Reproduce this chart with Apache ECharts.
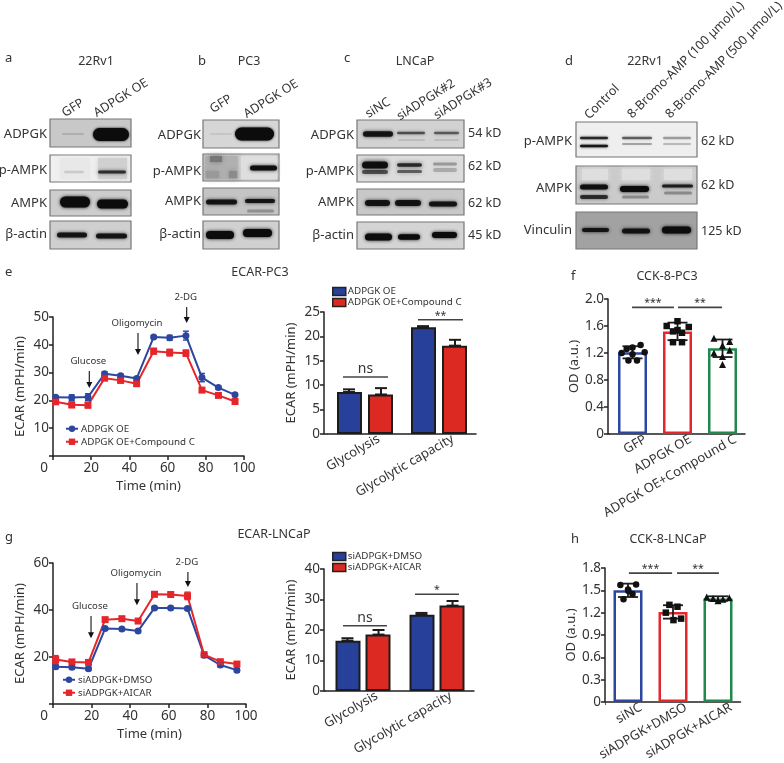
<!DOCTYPE html>
<html><head><meta charset="utf-8">
<style>html,body{margin:0;padding:0;background:#fff}#c{width:784px;height:763px}</style>
<script src="https://cdn.jsdelivr.net/npm/echarts@6/dist/echarts.min.js"></script>
</head><body><div id="c"></div>
<script>
// ---------- data ----------
const eTime=[1.4,9.8,18.3,27,35.4,43.8,52.7,61.1,69.6,78,86.6,95.3];
const eBlue=[21.1,21,21.2,29.6,28.9,27.9,42.8,42.5,43.3,28.2,24.6,22];
const eBlueErr=[0.6,1,1.2,0.7,0.6,0.6,0.5,0.9,1.6,1.5,0.6,0.5];
const eRed=[19.5,18.4,18.3,28,27.2,26,37.7,37.2,37,23.7,21.8,19.6];
const eRedErr=[0.8,1,1,0.8,0.8,0.9,1,1.2,1.1,0.7,0.7,0.6];
const gTime=[1.4,9.8,18.4,27,35.7,44.1,52.6,61,69.7,78.3,86.7,95.3];
const gBlue=[15.9,15.6,15,32.1,31.9,31.1,40.9,40.9,40.6,20.7,16.6,14.4];
const gBlueErr=[0.8,0.8,0.7,0.7,0.6,0.6,0.6,0.6,0.7,0.8,0.8,0.8];
const gRed=[18.9,17.9,17.7,35.9,36.3,35.3,46.7,46.6,46,21,18,17];
const gRedErr=[1.7,0.9,0.8,0.7,0.7,0.7,1,0.7,1.6,0.9,0.8,0.8];
const barCats=['Glycolysis','Glycolytic capacity'];
const eBarBlue=[8.6,21.85], eBarBlueErr=[0.55,0.25];
const eBarRed=[8.1,18.1], eBarRedErr=[1.3,1.2];
const gBarBlue=[16.5,25], gBarBlueErr=[0.8,0.6];
const gBarRed=[18.5,28], gBarRedErr=[1.5,1.5];
const fCats=['GFP','ADPGK OE','ADPGK OE+Compound C'];
const fMeans=[1.21,1.52,1.27], fErrs=[0.09,0.13,0.13];
const fDots0=[[-0.24,1.2],[-0.13,1.26],[0,1.28],[0.18,1.32],[0.27,1.21],[-0.09,1.09],[0.1,1.09],[0,1.18]];
const fDots1=[[0.76,1.6],[1,1.67],[1.25,1.585],[0.9,1.52],[1.1,1.5],[0.9,1.36],[1.1,1.36],[1,1.54]];
const fDots2=[[1.81,1.42],[2.16,1.37],[2,1.31],[1.81,1.2],[2.16,1.24],[2,1.15],[2,1.03]];
const hCats=['siNC','siADPGK+DMSO','siADPGK+AICAR'];
const hMeans=[1.5,1.21,1.39], hErrs=[0.09,0.09,0.03];
const hDots0=[[-0.17,1.57],[0.18,1.58],[0.01,1.49],[0.1,1.45],[-0.1,1.38],[0,1.51]];
const hDots1=[[0.92,1.305],[1.1,1.28],[0.84,1.2],[1.01,1.1],[1.18,1.12]];
const hDots2=[[1.75,1.41],[2.25,1.4],[1.89,1.39],[2,1.36],[2.11,1.38]];
const eArrows=[[19,30.6,24.5,'Glucose'],[44.5,44.2,36.3,'Oligomycin'],[70,53.6,47.8,'2-DG']];
const gArrows=[[19.7,37.4,28,'Glucose'],[43.5,51.5,42,'Oligomycin'],[69.9,56.2,49.8,'2-DG']];
const eBarSig=[[-0.297,0.311,11.7,'ns'],[0.716,1.324,23.4,'**']];
const gBarSig=[[-0.27,0.324,21.4,'ns'],[0.703,1.297,31.7,'*']];
const fSig=[[-0.01,0.92,1.877,'***'],[1.01,1.99,1.877,'**']];
const hSig=[[0.02,0.98,1.73,'***'],[1.09,2.02,1.73,'**']];

// ---------- style ----------
const FONT='"Noto Sans"', INK='#333', AX='#222';
const BLUE='#2c479f', RED='#e5262b', GREEN='#1f8a4c', BARBLUE='#27409a', BARRED='#dc2a22';
const chart=echarts.init(document.getElementById('c'),null,{renderer:'canvas'});

// ---------- blots (picture decoration) ----------
const el=[];
const txt=(t,x,y,o={})=>el.push({type:'text',x,y,rotation:(o.rot||0)*Math.PI/180,silent:true,z:10,
  style:{text:t,fill:o.fill||INK,font:(o.size||13)+'px '+FONT,textAlign:o.align||'center',textVerticalAlign:'middle'}});
const panel=(x1,y1,x2,y2,fill)=>el.push({type:'rect',silent:true,shape:{x:x1,y:y1,width:x2-x1,height:y2-y1},
  style:{fill,stroke:'#777',lineWidth:1.2}});
const band=(x1,x2,cy,h,a=1,blur=3.5)=>{const c='rgba(12,12,12,'+a+')';el.push({type:'rect',silent:true,
  shape:{x:x1,y:cy-h/2,width:x2-x1,height:h,r:h/2},style:{fill:c,shadowBlur:blur,shadowColor:c}})};
const patch=(x1,y1,x2,y2,c)=>el.push({type:'rect',silent:true,shape:{x:x1,y:y1,width:x2-x1,height:y2-y1},style:{fill:c,shadowBlur:5,shadowColor:c}});

// a
panel(50,119,131,147,'#c8c8c8'); band(62,84,134,2,0.12,3); band(93,129,134.5,13,1,2.5);
panel(50,155,131,182,'#f0f0f0'); patch(60,158,90,179,'#e8e8e8'); patch(98,158,127,179,'#d0d0d0'); band(64,84,172,2.5,0.13,3); band(98,126,172,3,0.75);
panel(50,190,131,216,'#cdcdcd'); band(60,90,202,11,1); band(97,128,204,9,1);
panel(50,221,131,249,'#cfcfcf'); band(57,87,235,5,0.9); band(96,127,236,5,0.9);
// b
panel(203,120,279,148,'#d6d6d6'); band(210,232,134,1.5,0.1,3); band(235,274,134,13,1,2.5);
panel(203,154,279,181,'#c8c8c8'); patch(205,156,238,179,'#b0b0b0'); patch(210,156,222,162,'#777'); patch(229,171,237,178,'#8a8a8a'); patch(206,171,219,178,'#999');
patch(241,156,277,179,'#dedede'); band(250,277,168,5,0.95);
panel(203,188,279,215,'#c4c4c4'); band(206,237,202,5,0.9); band(245,275,201,4,0.9); band(247,274,211,3,0.25,3);
panel(203,221,279,249,'#d0d0d0'); band(206,234,235,8,1); band(243,272,233,8,1);
// c
panel(357,120,464,148,'#d2d2d2'); band(363,393,134,5.5,0.9); band(397,425,133,2.5,0.6); band(434,459,133,2.5,0.55); band(398,425,140,2,0.1,3); band(434,459,140,2,0.1,3);
panel(357,155,464,182,'#dcdcdc'); band(362,388,165,7,0.95,5); band(362,388,172,4,0.6,4); band(397,422,165,3.5,0.8,4); band(397,422,171.5,3,0.55,4); band(433,457,164,3,0.3,5); band(433,457,170,4,0.22,5);
panel(357,189,464,215,'#c8c8c8'); band(365,390,203,6,0.9); band(395,421,203,6,0.9); band(429,457,204,5,0.9);
panel(357,222,464,249,'#d4d4d4'); band(365,392,237,7,1); band(398,420,237,5.5,1); band(432,457,235,6,1);
// d
panel(576,122,697,157,'#efefef'); band(580,608,138,2.6,0.8,2.5); band(580,608,146,2.6,0.9,2.5); band(622,652,138,2.6,0.55,2.5); band(622,652,144,2.2,0.3,2.5); band(663,691,138,2.4,0.32,2.5); band(663,691,144,2.2,0.22,2.5);
panel(576,166,697,204,'#cbcbcb'); patch(582,169,608,180,'#dedede'); patch(622,169,650,180,'#dedede'); patch(664,169,692,180,'#dedede');
band(580,608,187,5,0.95); band(580,608,197,4,0.75); band(620,649,189,6,1); band(622,649,197,3,0.3,3); band(662,693,186,3,0.85); band(664,692,193,3,0.3,3);
panel(576,212,697,249,'#a2a2a2'); band(582,609,230,4,0.9); band(622,650,231,5,0.9); band(662,691,230,7,1);

// blot text
[['a',5,58],['b',198,61],['c',344,58],['d',565,61],['e',5,272],['f',571,276],['g',5,537],['h',571,539]].forEach(a=>txt(a[0],a[1],a[2],{size:13,align:'left'}));
[['22Rv1',96,61],['PC3',249,61],['LNCaP',415,61],['22Rv1',645,61],['ECAR-PC3',260,272],['CCK-8-PC3',667,276],['ECAR-LNCaP',274,534],['CCK-8-LNCaP',668,539]].forEach(a=>txt(a[0],a[1],a[2],{size:12.5}));
[['ADPGK',47,134],['p-AMPK',47,170],['AMPK',47,203],['β-actin',47,234],
 ['ADPGK',201,135],['p-AMPK',201,171],['AMPK',201,201],['β-actin',201,234],
 ['ADPGK',354,135],['p-AMPK',354,171],['AMPK',354,202],['β-actin',354,235],
 ['p-AMPK',572,141],['AMPK',572,188],['Vinculin',572,230]].forEach(a=>txt(a[0],a[1],a[2],{size:13,align:'right'}));
[['54 kD',468,133],['62 kD',468,166],['62 kD',468,203],['45 kD',468,235],['62 kD',701,141],['62 kD',701,185],['125 kD',701,231]].forEach(a=>txt(a[0],a[1],a[2],{size:12.5,align:'left'}));
[['GFP',73,108,32],['ADPGK OE',121,98,32],['GFP',221,104,32],['ADPGK OE',271,99,32],['siNC',378,108,32],['siADPGK#2',426,100,32],['siADPGK#3',463,99,32],
 ['Control',602,102,45],['8-Bromo-AMP (100 μmol/L)',686,60,45],['8-Bromo-AMP (500 μmol/L)',724,60,45]].forEach(a=>txt(a[0],a[1],a[2],{size:12.5,rot:a[3]}));

// baseline stubs where the y axis sits left of the category scale
[[324,328,434],[324,326,691],[608,610,434],[605,606,704]].forEach(s=>el.push({type:'line',silent:true,shape:{x1:s[0],y1:s[2],x2:s[1],y2:s[2]},style:{stroke:AX,lineWidth:1.5}}));

// ---------- axes helpers ----------
const grids=[
 {left:53,top:317,width:191,height:139},
 {left:328,top:312,width:148,height:122},
 {left:610,top:299,width:135,height:135},
 {left:53,top:563,width:193,height:141},
 {left:326,top:569,width:148,height:122},
 {left:605.5,top:568,width:135,height:136}
];
const axisBase={axisLine:{onZero:false,lineStyle:{color:AX,width:1.5}},axisTick:{length:4,lineStyle:{color:AX,width:1.5}},splitLine:{show:false}};
const timeAxis=(gi)=>({...axisBase,type:'value',gridIndex:gi,min:0,max:100,interval:20,name:'Time (min)',nameLocation:'middle',nameGap:24,
  nameTextStyle:{fontFamily:FONT,fontSize:13,color:INK},
  axisLabel:{fontFamily:FONT,fontSize:13.5,color:INK,margin:5,formatter:v=>v===0?'{z|0}':String(v),rich:{z:{fontFamily:FONT,fontSize:13.5,color:INK,padding:[0,18,0,0]}}}});
const catAxis=(gi,data,pad,margin)=>({...axisBase,type:'category',gridIndex:gi,data,axisTick:{...axisBase.axisTick,alignWithLabel:true},
  axisLabel:{fontFamily:FONT,fontSize:13,color:INK,rotate:30,interval:0,margin,padding:[0,-pad,0,0]}});
const hid=(gi,min,max)=>({type:'value',gridIndex:gi,min,max,show:false});
const yAx=(gi,min,max,interval,name,gap,off,fmt)=>({...axisBase,type:'value',gridIndex:gi,min,max,interval,offset:off,name,nameLocation:'middle',nameGap:gap,
  nameTextStyle:{fontFamily:FONT,fontSize:13,color:INK},axisLabel:{fontFamily:FONT,fontSize:13.5,color:INK,margin:4,formatter:fmt}});
const noZero=v=>v===0?'':String(v);

// ---------- series helpers ----------
const errSeries=(xi,yi,rows,color,cap,w=1.6)=>({type:'custom',xAxisIndex:xi,yAxisIndex:yi,data:rows,z:6,silent:true,
  renderItem(p,api){const x=api.value(0),a=api.coord([x,api.value(1)]),b=api.coord([x,api.value(2)]);
    const s={stroke:color,lineWidth:w,fill:'none'};
    return {type:'group',children:[
      {type:'line',shape:{x1:a[0],y1:a[1],x2:b[0],y2:b[1]},style:s},
      {type:'line',shape:{x1:b[0]-cap,y1:b[1],x2:b[0]+cap,y2:b[1]},style:s},
      {type:'line',shape:{x1:a[0]-cap,y1:a[1],x2:a[0]+cap,y2:a[1]},style:s}]};}});
const sigSeries=(xi,yi,rows,lw=1.5)=>({type:'custom',xAxisIndex:xi,yAxisIndex:yi,data:rows,z:7,silent:true,
  dimensions:['x1','x2','y','t'],encode:{x:[0,1],y:2},
  renderItem(p,api){const r=rows[p.dataIndex],a=api.coord([r[0],r[2]]),b=api.coord([r[1],r[2]]);
    const ns=r[3]==='ns';
    return {type:'group',children:[
      {type:'line',shape:{x1:a[0],y1:a[1],x2:b[0],y2:b[1]},style:{stroke:'#444',lineWidth:lw}},
      {type:'text',x:(a[0]+b[0])/2,y:a[1]-(ns?8:4),style:{text:r[3],fill:'#333',font:(ns?14:10.5)+'px '+FONT,textAlign:'center',textVerticalAlign:'middle'}}]};}});
const arrowSeries=(xi,yi,rows,gap)=>({type:'custom',xAxisIndex:xi,yAxisIndex:yi,data:rows,z:8,silent:true,
  dimensions:['x','y1','y2','t'],encode:{x:0,y:[1,2]},
  renderItem(p,api){const r=rows[p.dataIndex],a=api.coord([r[0],r[1]]),b=api.coord([r[0],r[2]]);
    return {type:'group',children:[
      {type:'line',shape:{x1:a[0],y1:a[1],x2:b[0],y2:b[1]-4},style:{stroke:'#111',lineWidth:1.1}},
      {type:'polygon',shape:{points:[[b[0]-3,b[1]-6],[b[0]+3,b[1]-6],[b[0],b[1]]]},style:{fill:'#111'}},
      {type:'text',x:a[0]-1,y:a[1]-gap,style:{text:r[3],fill:'#333',font:'9.6px '+FONT,textAlign:'center',textVerticalAlign:'middle'}}]};}});
const lineS=(name,xi,yi,xs,ys,color,sym)=>({type:'line',name,xAxisIndex:xi,yAxisIndex:yi,data:xs.map((x,i)=>[x,ys[i]]),
  symbol:sym,symbolSize:7,itemStyle:{color},lineStyle:{color,width:2},z:5,silent:true});
const lineErr=(xi,yi,xs,ys,es,color)=>errSeries(xi,yi,xs.map((x,i)=>[x,ys[i]-es[i],ys[i]+es[i]]),color,3,1.4);
const barS=(name,xi,yi,data,color,gap)=>({type:'bar',name,xAxisIndex:xi,yAxisIndex:yi,data,barWidth:25,barGap:gap,silent:true,
  itemStyle:{color,borderColor:'#1c1c1c',borderWidth:2},z:3});
const upErr=(xi,yi,cats,shift,vals,errs)=>errSeries(xi,yi,cats.map((c,i)=>[i+shift,vals[i],vals[i]+errs[i]]),'#1c1c1c',6,2);
const openBar=(xi,yi,vals,colors)=>({type:'bar',xAxisIndex:xi,yAxisIndex:yi,barWidth:29,silent:true,z:3,
  data:vals.map((v,i)=>({value:v,itemStyle:{color:'#fff',borderColor:colors[i],borderWidth:2.5}}))});
const dots=(xi,yi,rows,sym,size)=>({type:'scatter',xAxisIndex:xi,yAxisIndex:yi,data:rows,symbol:sym,symbolSize:size,itemStyle:{color:'#111',opacity:1},z:8,silent:true});
const bothErr=(xi,yi,vals,errs)=>errSeries(xi,yi,vals.map((v,i)=>[i,v-errs[i],v+errs[i]]),'#1c1c1c',10,1.8);

const barLegend=(left,top,names)=>({left,top,orient:'vertical',itemWidth:13,itemHeight:8,itemGap:0,selectedMode:false,padding:0,
  textStyle:{fontFamily:FONT,fontSize:9.8,color:INK,lineHeight:11,padding:[0,0,0,-3]},
  data:names.map((n,i)=>({name:n,icon:'rect',itemStyle:{color:i?BARRED:BARBLUE,borderColor:'#222',borderWidth:1.5}}))});
const lineLegend=(left,top,names)=>({left,top,orient:'vertical',itemWidth:12,itemHeight:8,itemGap:1.5,selectedMode:false,padding:0,
  textStyle:{fontFamily:FONT,fontSize:9.8,color:INK,lineHeight:11.5,padding:[0,0,0,-2]},data:names});

const eNames=['ADPGK OE','ADPGK OE+Compound C'], gNames=['siADPGK+DMSO','siADPGK+AICAR'];

chart.setOption({
  animation:false,backgroundColor:'#fff',
  grid:grids,
  graphic:{elements:el},
  legend:[lineLegend(65,423,eNames),barLegend(332,286,eNames),lineLegend(62,674,gNames),barLegend(332,551,gNames)],
  xAxis:[timeAxis(0),catAxis(1,barCats,16,12),catAxis(2,fCats,15,12),timeAxis(3),catAxis(4,barCats,16,12),catAxis(5,hCats,15,12),
         hid(1,-0.5,1.5),hid(2,-0.5,2.5),hid(4,-0.5,1.5),hid(5,-0.5,2.5)],
  yAxis:[yAx(0,0,50,10,'ECAR (mPH/min)',26,0,noZero),
         yAx(1,0,25,5,'ECAR (mPH/min)',26,4,String),
         yAx(2,0,2,0.4,'OD (a.u.)',27,2,v=>v===0?'0':v.toFixed(1)),
         yAx(3,0,60,20,'ECAR (mPH/min)',26,0,noZero),
         yAx(4,0,40,10,'ECAR (mPH/min)',26,2,String),
         yAx(5,0,1.8,0.3,'OD (a.u.)',27,0.5,v=>v===0?'0':v.toFixed(1))],
  series:[
    lineErr(0,0,eTime,eBlue,eBlueErr,BLUE),lineErr(0,0,eTime,eRed,eRedErr,RED),
    lineS(eNames[0],0,0,eTime,eBlue,BLUE,'circle'),lineS(eNames[1],0,0,eTime,eRed,RED,'rect'),
    arrowSeries(0,0,eArrows,10),
    barS(eNames[0],1,1,eBarBlue,BARBLUE,'24%'),barS(eNames[1],1,1,eBarRed,BARRED,'24%'),
    upErr(6,1,barCats,-0.216,eBarBlue,eBarBlueErr),upErr(6,1,barCats,0.216,eBarRed,eBarRedErr),sigSeries(6,1,eBarSig),
    openBar(2,2,fMeans,[BLUE,RED,GREEN]),bothErr(7,2,fMeans,fErrs),
    dots(7,2,fDots0,'circle',6.5),dots(7,2,fDots1,'rect',6.5),dots(7,2,fDots2,'triangle',7),sigSeries(7,2,fSig,1.8),
    lineErr(3,3,gTime,gBlue,gBlueErr,BLUE),lineErr(3,3,gTime,gRed,gRedErr,RED),
    lineS(gNames[0],3,3,gTime,gBlue,BLUE,'circle'),lineS(gNames[1],3,3,gTime,gRed,RED,'rect'),
    arrowSeries(3,3,gArrows,10),
    barS(gNames[0],4,4,gBarBlue,BARBLUE,'20%'),barS(gNames[1],4,4,gBarRed,BARRED,'20%'),
    upErr(8,4,barCats,-0.21,gBarBlue,gBarBlueErr),upErr(8,4,barCats,0.21,gBarRed,gBarRedErr),sigSeries(8,4,gBarSig),
    openBar(5,5,hMeans,[BLUE,RED,GREEN]),bothErr(9,5,hMeans,hErrs),
    dots(9,5,hDots0,'circle',6.5),dots(9,5,hDots1,'rect',6.5),dots(9,5,hDots2,'triangle',7),sigSeries(9,5,hSig,1.8)
  ]
});
</script></body></html>
